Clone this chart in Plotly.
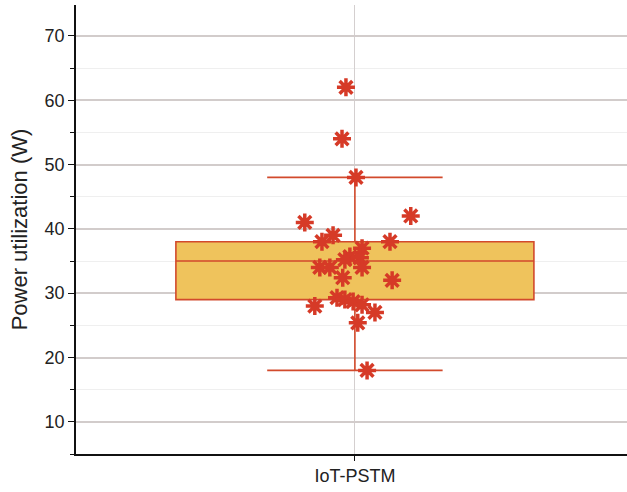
import plotly.graph_objects as go

category = "IoT-PSTM"
# box statistics
q1 = 29
median = 35
q3 = 38
lower_whisker = 18
upper_whisker = 48

# individual observations (value, horizontal jitter in box widths)
point_values = [62, 54, 48, 41, 42, 39, 38, 38, 37, 35.7, 35.2, 35.5, 34, 34, 34,
                32.4, 32, 28, 29.3, 29, 28.7, 28.2, 27, 25.4, 18]
point_jitter = [-0.025, -0.036, 0.003, -0.14, 0.156, -0.061, -0.092, 0.098, 0.02, -0.014,
                -0.028, 0.014, -0.098, -0.07, 0.02, -0.034, 0.104, -0.112, -0.05, -0.028,
                -0.005, 0.02, 0.056, 0.008, 0.034]

red = "#D63A27"
edge = "#D24A2C"
fill = "#EFC35C"

fig = go.Figure()
fig.add_trace(go.Box(
    x=[0], q1=[q1], median=[median], q3=[q3],
    lowerfence=[lower_whisker], upperfence=[upper_whisker],
    width=1.0, whiskerwidth=0.49,
    fillcolor=fill, line=dict(color=edge, width=1.6),
    boxpoints=False, showlegend=False, hoverinfo="skip",
))
fig.add_trace(go.Scatter(
    x=point_jitter, y=point_values, mode="markers",
    marker=dict(symbol="asterisk-open", size=15, color=red,
                line=dict(color=red, width=3.5)),
    showlegend=False,
))

fig.update_layout(
    width=627, height=492,
    margin=dict(l=76, r=0, t=5, b=38),
    plot_bgcolor="white", paper_bgcolor="white",
    font=dict(family="Liberation Sans, Arial, sans-serif", color="#222"),
)
fig.update_xaxes(
    range=[-0.779, 0.760], tickvals=[0], ticktext=[category],
    showline=True, linecolor="#111", linewidth=1.5,
    ticks="outside", ticklen=5, tickcolor="#111",
    showgrid=True, gridcolor="#d4cfcf", gridwidth=1,
    tickfont=dict(size=18), zeroline=False, automargin=False,
)
fig.update_yaxes(
    range=[5, 74.8], tickvals=[10, 20, 30, 40, 50, 60, 70],
    showline=True, linecolor="#111", linewidth=1.5,
    ticks="outside", ticklen=6, tickcolor="#111",
    showgrid=True, gridcolor="#d2cccb", gridwidth=1.5,
    minor=dict(dtick=5, ticks="outside", ticklen=4, tickcolor="#111",
               showgrid=True, gridcolor="#efefef", gridwidth=1),
    tickfont=dict(size=18), zeroline=False, automargin=False,
    title=dict(text="Power utilization (W)", font=dict(size=22), standoff=11),
)

fig.write_html("out.html", config={"displayModeBar": False},
               post_script="document.body.style.margin='0';")
